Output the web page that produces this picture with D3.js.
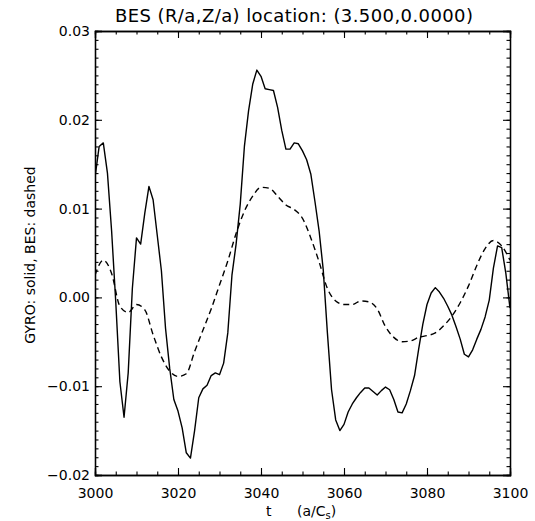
<!DOCTYPE html>
<html>
<head>
<meta charset="utf-8">
<script src="https://cdn.jsdelivr.net/npm/d3@7"></script>
<style>
  html, body { margin: 0; padding: 0; background: #fff; }
  text { font-family: "DejaVu Sans", "Liberation Sans", sans-serif; fill: #000; }
</style>
</head>
<body>
<svg id="chart" width="535" height="521"></svg>
<script>
// ---- Data ----
const titleText = "BES (R/a,Z/a) location: (3.500,0.0000)";
const yLabelText = "GYRO: solid, BES: dashed";
const xTicks = [3000, 3020, 3040, 3060, 3080, 3100];
const yTicks = [-0.02, -0.01, 0.00, 0.01, 0.02, 0.03];

// GYRO (solid), t = 3000..3100 step 1
const gyroT = d3.range(3000, 3101, 1);
const gyroValues = [
  0.0135, 0.0170, 0.0174, 0.0140, 0.0075, -0.0005, -0.0095, -0.0135, -0.0085, 0.0010,
  0.0067, 0.0060, 0.0095, 0.0125, 0.0110, 0.0070, 0.0030, -0.0035, -0.0080, -0.0115,
  -0.0128, -0.0147, -0.0175, -0.0181, -0.0150, -0.0113, -0.0103, -0.0099, -0.0088, -0.0085,
  -0.0087, -0.0074, -0.0040, 0.0025, 0.0060, 0.0105, 0.0170, 0.0210, 0.0240, 0.0256,
  0.0249, 0.0235, 0.0234, 0.0233, 0.0214, 0.0188, 0.0167, 0.0167, 0.0174, 0.0173,
  0.0165, 0.0155, 0.0139, 0.0108, 0.0075, 0.0031, -0.0040, -0.0104, -0.0138, -0.0150,
  -0.0143, -0.0129, -0.0120, -0.0113, -0.0107, -0.0102, -0.0102, -0.0106, -0.0110, -0.0105,
  -0.0101, -0.0104, -0.0115, -0.0129, -0.0130, -0.0120, -0.0105, -0.0088, -0.0058, -0.0030,
  -0.0008, 0.0005, 0.0011, 0.0006, -0.0001, -0.0010, -0.0020, -0.0033, -0.0047, -0.0064,
  -0.0067, -0.0059, -0.0047, -0.0036, -0.0022, -0.0003, 0.0033, 0.0058, 0.0056, 0.0027,
  -0.0012
];

// BES (dashed), t = 3000..3100 step 2
const besT = d3.range(3000, 3101, 2);
const besValues = [
  0.0025, 0.0042, 0.0027, -0.0010, -0.0017, -0.0008, -0.0014, -0.0042, -0.0067, -0.0083,
  -0.0089, -0.0086, -0.0061, -0.0037, -0.0013, 0.0014, 0.0041, 0.0072, 0.0097, 0.0114,
  0.0124, 0.0123, 0.0114, 0.0104, 0.0099, 0.0089, 0.0067, 0.0040, 0.0010, -0.0004,
  -0.0008, -0.0008, -0.0004, -0.0005, -0.0013, -0.0033, -0.0045, -0.0050, -0.0049, -0.0045,
  -0.0043, -0.0040, -0.0032, -0.0021, -0.0006, 0.0013, 0.0036, 0.0055, 0.0064, 0.0058,
  0.0042
];

// ---- Layout ----
const svg = d3.select("#chart");
const PL = 95, PR = 510, PT = 31, PB = 475;

const x = d3.scaleLinear().domain([3000, 3100]).range([PL, PR]);
const y = d3.scaleLinear().domain([-0.02, 0.03]).range([PB, PT]);

const xMinor = d3.range(3000, 3100.01, 5);
const yMinor = d3.range(-20, 30.01, 1).map(v => v / 1000);

const fmtY = d3.format(".2f");

// Axes (IDL-style ticks on all four sides, pointing inward)
svg.append("g").attr("transform", `translate(0,${PB})`)
  .call(d3.axisBottom(x).tickValues(xTicks).tickSize(-7).tickPadding(13).tickFormat(d3.format("d")));
svg.append("g").attr("transform", `translate(0,${PT})`)
  .call(d3.axisTop(x).tickValues(xTicks).tickSize(-7).tickFormat(""));
svg.append("g").attr("transform", `translate(${PL},0)`)
  .call(d3.axisLeft(y).tickValues(yTicks).tickSize(-7).tickPadding(5).tickFormat(fmtY));
svg.append("g").attr("transform", `translate(${PR},0)`)
  .call(d3.axisRight(y).tickValues(yTicks).tickSize(-7).tickFormat(""));

// minor ticks
svg.append("g").attr("transform", `translate(0,${PB})`)
  .call(d3.axisBottom(x).tickValues(xMinor).tickSize(-3.5).tickFormat(""));
svg.append("g").attr("transform", `translate(0,${PT})`)
  .call(d3.axisTop(x).tickValues(xMinor).tickSize(-3.5).tickFormat(""));
svg.append("g").attr("transform", `translate(${PL},0)`)
  .call(d3.axisLeft(y).tickValues(yMinor).tickSize(-3.5).tickFormat(""));
svg.append("g").attr("transform", `translate(${PR},0)`)
  .call(d3.axisRight(y).tickValues(yMinor).tickSize(-3.5).tickFormat(""));

svg.selectAll(".domain").attr("stroke", "#000").attr("stroke-width", 1.3);
svg.selectAll(".tick line").attr("stroke", "#000").attr("stroke-width", 1.1);
svg.selectAll(".tick text").attr("font-size", 14).attr("font-family", "DejaVu Sans").attr("fill", "#000");

// Lines
svg.append("clipPath").attr("id", "clip")
  .append("rect").attr("x", PL).attr("y", PT).attr("width", PR - PL).attr("height", PB - PT);

const gyroLine = d3.line().x((d, i) => x(gyroT[i])).y(d => y(d));
svg.append("path")
  .attr("clip-path", "url(#clip)")
  .attr("d", gyroLine(gyroValues))
  .attr("fill", "none").attr("stroke", "#000").attr("stroke-width", 1.4)
  .attr("stroke-linejoin", "round");

const besLine = d3.line().x((d, i) => x(besT[i])).y(d => y(d)).curve(d3.curveMonotoneX);
svg.append("path")
  .attr("clip-path", "url(#clip)")
  .attr("d", besLine(besValues))
  .attr("fill", "none").attr("stroke", "#000").attr("stroke-width", 1.4)
  .attr("stroke-dasharray", "6,4");

// Title
svg.append("text")
  .attr("x", 294).attr("y", 22)
  .attr("text-anchor", "middle").attr("font-size", 18)
  .attr("textLength", 358).attr("lengthAdjust", "spacing")
  .text(titleText);

// X label
const xl = svg.append("text")
  .attr("x", 266).attr("y", 516)
  .attr("font-size", 14);
xl.append("tspan").text("t");
xl.append("tspan").attr("x", 297).text("(a/C");
xl.append("tspan").attr("font-size", 10).attr("dy", 3).text("s");
xl.append("tspan").attr("dy", -3).text(")");

// Y label
svg.append("text")
  .attr("transform", "translate(35,255) rotate(-90)")
  .attr("text-anchor", "middle").attr("font-size", 14)
  .text(yLabelText);
</script>
</body>
</html>
